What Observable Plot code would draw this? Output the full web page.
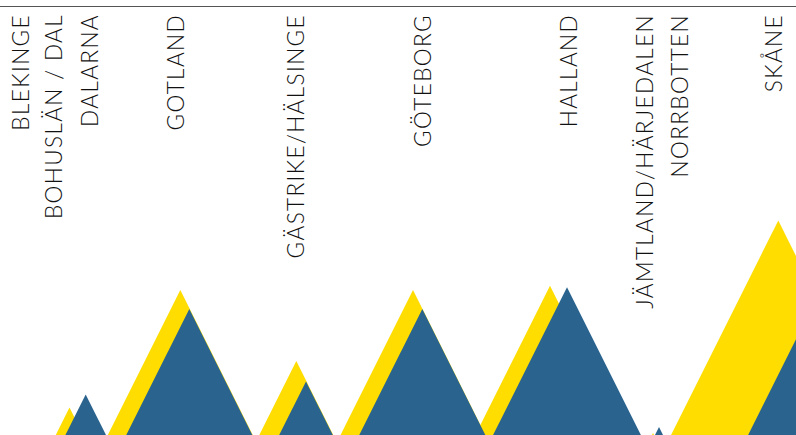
<!DOCTYPE html>
<html>
<head>
<meta charset="utf-8">
<script src="https://cdn.jsdelivr.net/npm/d3@7"></script>
<script src="https://cdn.jsdelivr.net/npm/@observablehq/plot@0.6"></script>
<style>
  html, body { margin: 0; padding: 0; background: #fff; overflow: hidden; }
  #chart svg { display: block; }
</style>
</head>
<body>
<div id="chart"></div>
<script>
// Regions (Swedish districts), label positions along the x axis
const regions = ["BLEKINGE", "BOHUSLÄN / DAL", "DALARNA", "GOTLAND", "GÄSTRIKE/HÄLSINGE",
                 "GÖTEBORG", "HALLAND", "JÄMTLAND/HÄRJEDALEN", "NORRBOTTEN", "SKÅNE"];
const labelPos = [21, 54, 90, 176, 296, 423, 569, 645, 680, 774];

// Yellow series: peak position and value
const yellowPos = [0, 0, 69.5, 180.3, 296.3, 413, 550, 653, 0, 778.3];
const yellowVal = [0, 0, 19, 100, 51, 100, 103, 1.4, 0, 148];

// Blue series: peak position and value
const bluePos = [0, 0, 85.7, 189.3, 306, 422.3, 567, 659, 0, 817];
const blueVal = [0, 0, 28, 87, 37, 87, 102, 5.5, 0, 95];

const W = 796, H = 435, marginTop = 6;
const yMax = 296;
const pxPerUnit = (H - marginTop) / yMax;   // y scale ratio
// triangles: height = 2 × half-width (in pixels)
function triangles(pos, val) {
  const pts = [];
  regions.forEach((r, i) => {
    if (val[i] <= 0) return;
    const hw = val[i] * pxPerUnit / 2;
    pts.push({region: r, x: pos[i] - hw, y: 0});
    pts.push({region: r, x: pos[i], y: val[i]});
    pts.push({region: r, x: pos[i] + hw, y: 0});
  });
  return pts;
}

const labels = regions.map((r, i) => ({region: r, x: labelPos[i]}));

const chart = Plot.plot({
  width: W,
  height: H,
  marginTop,
  marginBottom: 0,
  marginLeft: 0,
  marginRight: 0,
  x: {domain: [0, W], axis: null},
  y: {domain: [0, yMax], axis: null},
  style: {fontFamily: "Lato, sans-serif", background: "#fff", letterSpacing: "1.35px"},
  marks: [
    Plot.areaY(triangles(yellowPos, yellowVal), {x: "x", y: "y", z: "region", fill: "#FFDD00", curve: "linear", clip: true}),
    Plot.areaY(triangles(bluePos, blueVal), {x: "x", y: "y", z: "region", fill: "#29638E", curve: "linear", clip: true}),
    Plot.frame({anchor: "top", stroke: "#555", strokeWidth: 1.2}),
    Plot.text(labels, {
      x: "x", text: "region", frameAnchor: "top", dy: 7.5,
      rotate: -90, textAnchor: "end", lineAnchor: "middle",
      fontSize: 22.6, fontWeight: 300, fill: "#111"
    })
  ]
});
document.getElementById("chart").appendChild(chart);
</script>
</body>
</html>
